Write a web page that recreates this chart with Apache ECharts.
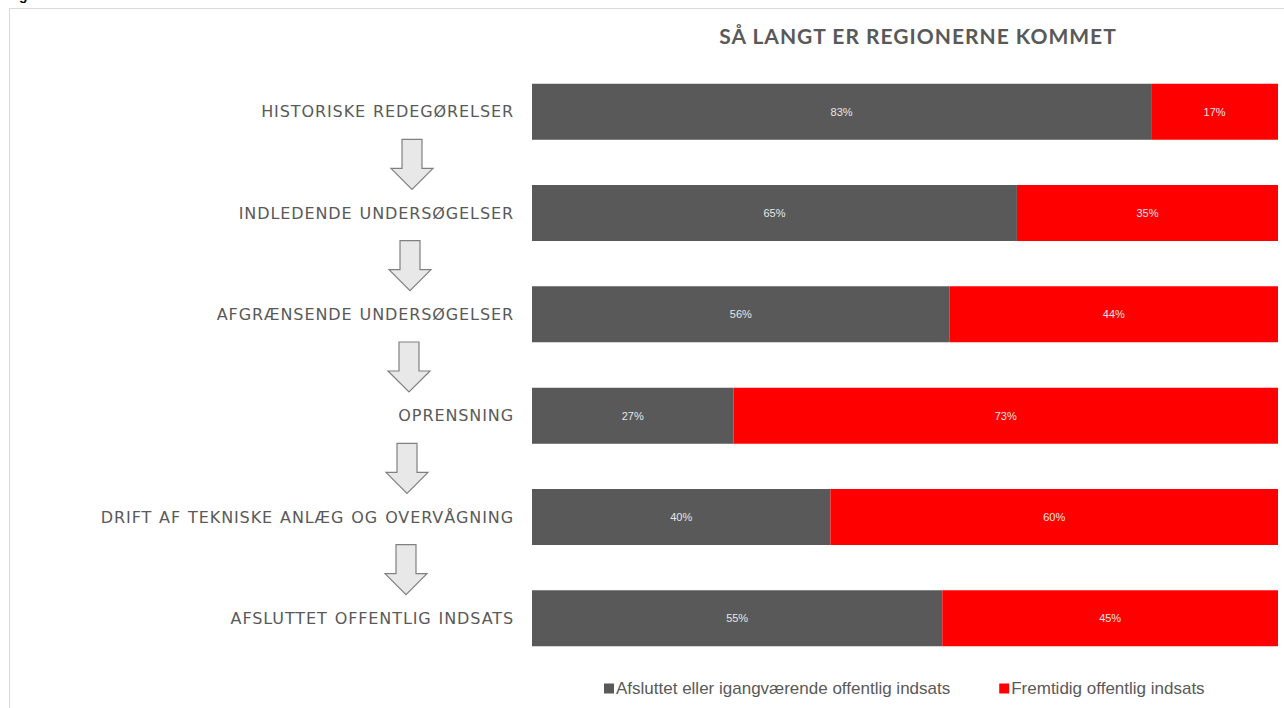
<!DOCTYPE html>
<html>
<head>
<meta charset="utf-8">
<title>Så langt er regionerne kommet</title>
<script src="https://cdn.jsdelivr.net/npm/echarts@6/dist/echarts.min.js"></script>
<style>
  html, body { margin: 0; padding: 0; background: #fff; }
  #chart { width: 1284px; height: 708px; }
  /* spærret skrift på kategorierne og overskriften (svg-renderer) */
  #chart text[style*="DejaVu"], #chart text[font-family*="DejaVu"] { letter-spacing: 0.9px; word-spacing: 1px; }
  #chart text[style*="Lato"], #chart text[font-family*="Lato"] { letter-spacing: 1px; }
</style>
</head>
<body>
<div id="chart"></div>
<script>
// data
const categories = [
  "HISTORISKE REDEGØRELSER",
  "INDLEDENDE UNDERSØGELSER",
  "AFGRÆNSENDE UNDERSØGELSER",
  "OPRENSNING",
  "DRIFT AF TEKNISKE ANLÆG OG OVERVÅGNING",
  "AFSLUTTET OFFENTLIG INDSATS"
];
const doneValues = [83, 65, 56, 27, 40, 55];
const futureValues = [17, 35, 44, 73, 60, 45];
const seriesNames = ["Afsluttet eller igangværende offentlig indsats", "Fremtidig offentlig indsats"];

const grey = "#595959";
const red = "#ff0000";

const myChart = echarts.init(document.getElementById("chart"), null, { renderer: "svg" });

const labelStyle = {
  show: true,
  position: "inside",
  color: "#e6e6e6",
  fontSize: 11,
  fontFamily: "Liberation Sans",
  formatter: (p) => p.value + "%"
};

let option = {
  animation: false,
  title: {
    text: "SÅ LANGT ER REGIONERNE KOMMET",
    left: 913,
    top: 20,
    textAlign: "center",
    textStyle: {
      color: grey,
      fontSize: 21,
      fontWeight: "bold",
      fontFamily: "Lato"
    }
  },
  legend: {
    data: seriesNames,
    left: 604,
    top: 680,
    padding: 0,
    icon: "rect",
    itemWidth: 10,
    itemHeight: 10,
    itemGap: 49,
    textStyle: {
      color: grey,
      fontSize: 17,
      fontFamily: "Liberation Sans",
      padding: [0, 0, 0, -3]
    }
  },
  grid: {
    left: 532,
    right: 6,
    top: 61,
    height: 608
  },
  xAxis: {
    type: "value",
    min: 0,
    max: 100,
    show: false
  },
  yAxis: {
    type: "category",
    data: categories,
    inverse: true,
    axisLine: { show: false },
    axisTick: { show: false },
    axisLabel: {
      margin: 18,
      color: grey,
      fontSize: 16,
      fontFamily: "DejaVu Sans"
    }
  },
  series: [
    {
      name: seriesNames[0],
      type: "bar",
      stack: "total",
      barWidth: 56,
      data: doneValues,
      itemStyle: { color: grey },
      label: labelStyle
    },
    {
      name: seriesNames[1],
      type: "bar",
      stack: "total",
      barWidth: 56,
      data: futureValues,
      itemStyle: { color: red },
      label: labelStyle
    }
  ]
};
myChart.setOption(option);

// pile mellem trinene, midt mellem to kategorier
const arrowX = [412, 410, 409, 407, 406];
let graphics = [];
for (let i = 0; i < categories.length - 1; i++) {
  let y1 = myChart.convertToPixel({ yAxisIndex: 0 }, i);
  let y2 = myChart.convertToPixel({ yAxisIndex: 0 }, i + 1);
  graphics.push({
    type: "polygon",
    x: arrowX[i],
    y: (y1 + y2) / 2 + 2,
    shape: {
      points: [[-10, -25], [10, -25], [10, 4], [21, 4], [0, 25], [-21, 4], [-10, 4]]
    },
    style: { fill: "#e8e8e8", stroke: "#808080", lineWidth: 1.2 }
  });
}
// ramme og afskåret overskrift (billedet er beskåret foroven)
graphics.push({
  type: "rect",
  shape: { x: 9.5, y: 8.5, width: 1300, height: 720 },
  style: { fill: "none", stroke: "#d9d9d9", lineWidth: 1 },
  z: -1
});
graphics.push({
  type: "text",
  x: 1,
  y: 2,
  style: {
    text: "Regionernes status",
    fill: "#000",
    font: "bold 14px Liberation Sans",
    textVerticalAlign: "bottom"
  }
});
myChart.setOption({ graphic: graphics });
</script>
</body>
</html>
